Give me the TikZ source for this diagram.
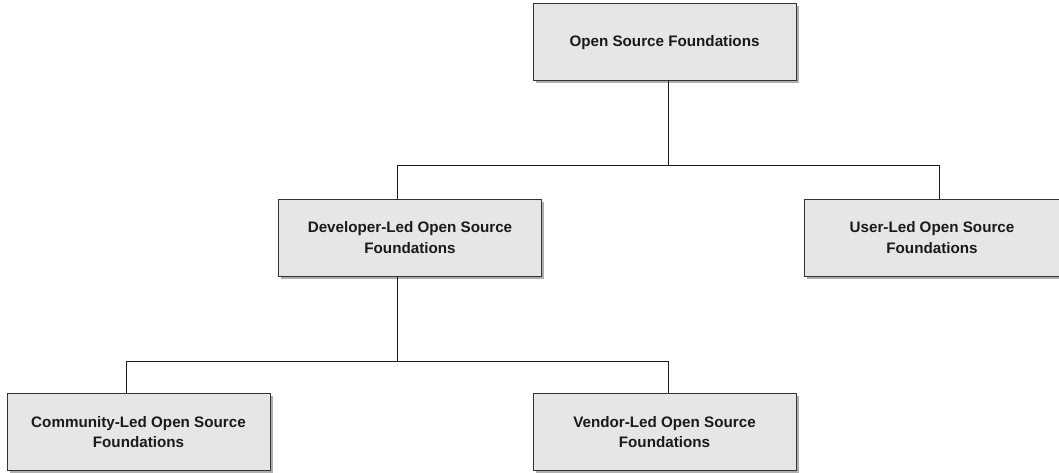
\documentclass[tikz,border=0pt]{standalone}
\usepackage{fontspec}
\setmainfont{Liberation Sans}
\usetikzlibrary{positioning,shadows}
\definecolor{boxfill}{HTML}{E6E6E6}
\definecolor{boxline}{HTML}{333333}
\definecolor{ink}{HTML}{1A1A1A}
\definecolor{shade}{HTML}{9A9A9A}
\tikzset{
  org/.style={draw=boxline,fill=boxfill,line width=1pt,minimum width=263pt,minimum height=77pt,inner sep=0pt,align=center,
    font=\fontsize{15.2}{20.7}\selectfont\bfseries,text=ink,
    drop shadow={shadow xshift=2.5pt,shadow yshift=-2.5pt,fill=shade,opacity=0.8}},
  link/.style={draw=ink,line width=1pt},
}

\begin{document}
\begin{tikzpicture}[x=1pt,y=-1pt]
\useasboundingbox (0,0) rectangle (1059,473);
\node[org] (osf) at (664.5,42.5) {Open Source Foundations};
\node[org] (dev) at (410,237.5) {Developer-Led Open Source\\Foundations};
\node[org,minimum width=256pt] (user) at (932,237.5) {User-Led Open Source\\Foundations};
\node[org] (comm) at (138.5,432) {Community-Led Open Source\\Foundations};
\node[org] (vend) at (664.5,432) {Vendor-Led Open Source\\Foundations};
% elbow links through a shared bus line
\draw[link] ([xshift=3.5pt]osf.south) -- ++(0,84) coordinate (bus1);
\draw[link] (bus1) -| ([xshift=-13pt]dev.north);
\draw[link] (bus1) -| ([xshift=7pt]user.north);
\draw[link] ([xshift=-13pt]dev.south) -- ++(0,85) coordinate (bus2);
\draw[link] (bus2) -| ([xshift=-12.5pt]comm.north);
\draw[link] (bus2) -| ([xshift=3.5pt]vend.north);
\end{tikzpicture}
\end{document}
